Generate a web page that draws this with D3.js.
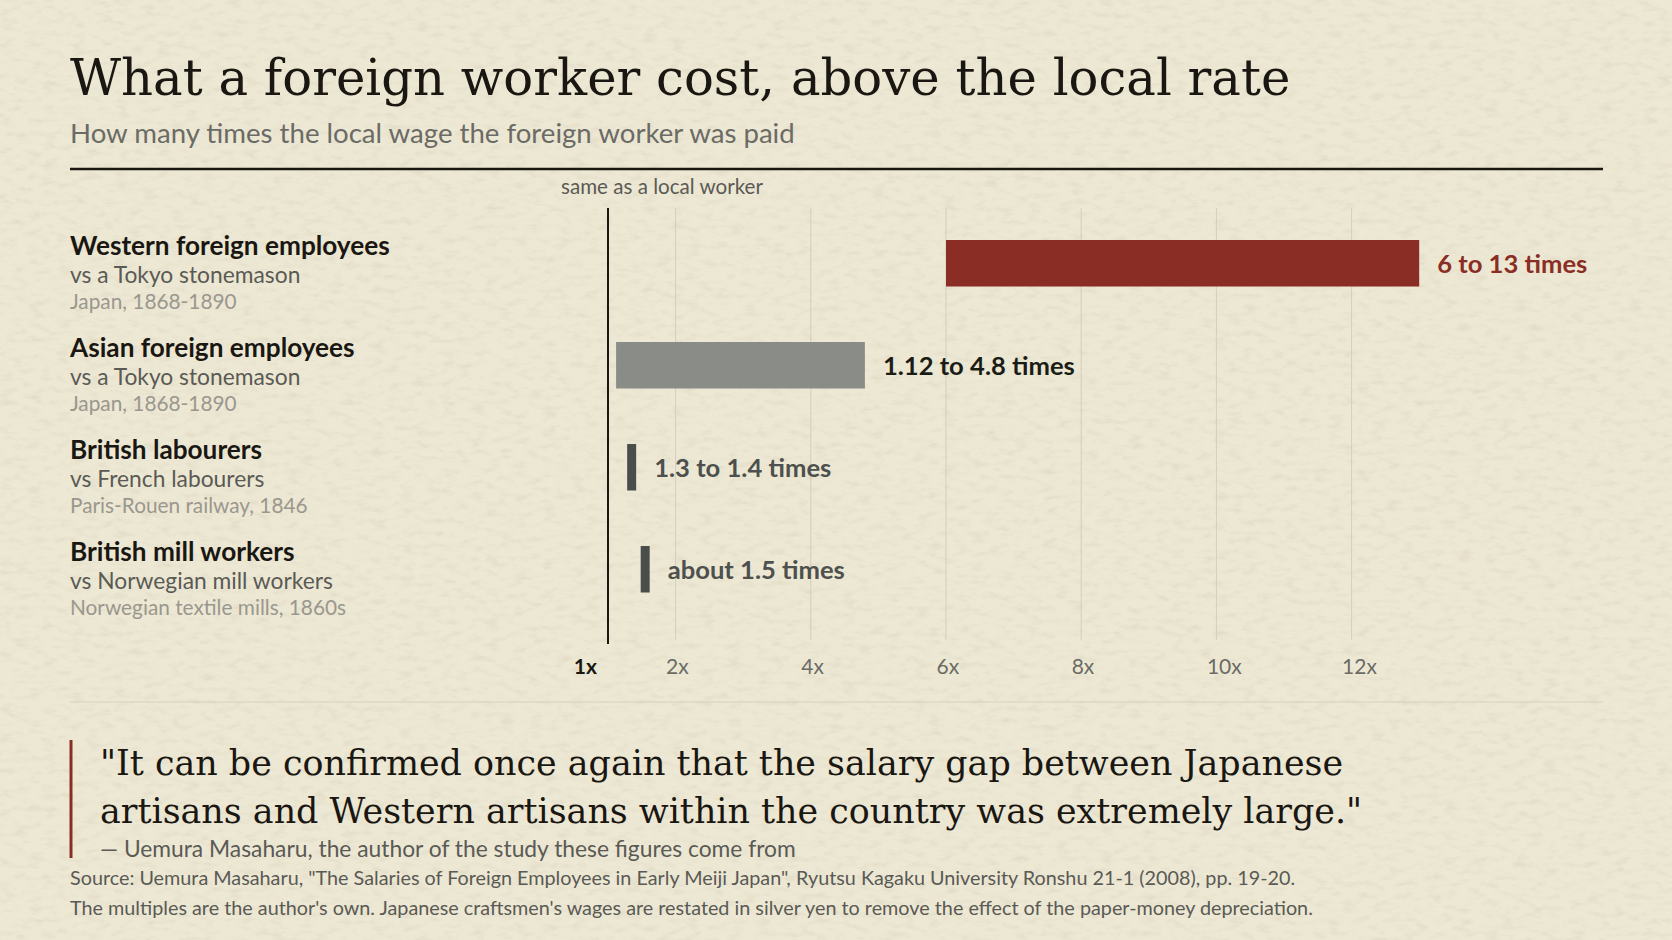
<!DOCTYPE html>
<html>
<head>
<meta charset="utf-8">
<script src="https://cdn.jsdelivr.net/npm/d3@7"></script>
<style>
  html, body { margin: 0; padding: 0; background: #ebe5cf; }
  svg { display: block; }
</style>
</head>
<body>
<div id="chart"></div>
<script>
// Chart data
const groups = ['Western foreign employees', 'Asian foreign employees', 'British labourers', 'British mill workers'];
const comparisons = ['vs a Tokyo stonemason', 'vs a Tokyo stonemason', 'vs French labourers', 'vs Norwegian mill workers'];
const places = ['Japan, 1868-1890', 'Japan, 1868-1890', 'Paris-Rouen railway, 1846', 'Norwegian textile mills, 1860s'];
const lowMultiple = [6, 1.12, 1.3, 1.5];
const highMultiple = [13, 4.8, 1.4, 1.6];
const valueLabels = ['6 to 13 times', '1.12 to 4.8 times', '1.3 to 1.4 times', 'about 1.5 times'];
const tickValues = [1, 2, 4, 6, 8, 10, 12];
const tickLabels = ['1x', '2x', '4x', '6x', '8x', '10x', '12x'];

const title = 'What a foreign worker cost, above the local rate';
const subtitle = 'How many times the local wage the foreign worker was paid';
const quoteLines = [
  '"It can be confirmed once again that the salary gap between Japanese',
  'artisans and Western artisans within the country was extremely large."'
];
const attribution = '\u2014 Uemura Masaharu, the author of the study these figures come from';
const sourceLines = [
  'Source: Uemura Masaharu, "The Salaries of Foreign Employees in Early Meiji Japan", Ryutsu Kagaku University Ronshu 21-1 (2008), pp. 19-20.',
  'The multiples are the author\'s own. Japanese craftsmen\'s wages are restated in silver yen to remove the effect of the paper-money depreciation.'
];

const width = 1672, height = 940;
const left = 70, right = 1603;
const serif = '"DejaVu Serif", "Liberation Serif", serif';
const sans = 'Lato, "Open Sans", sans-serif';

const barFill = ['#8a2e25', '#8a8c87', '#4a4e4b', '#4a4e4b'];
const labelFill = ['#8a2e25', '#1c1c17', '#4d504d', '#4d504d'];

const svg = d3.select('#chart')
  .append('svg')
  .attr('width', width)
  .attr('height', height);

// Paper texture
const defs = svg.append('defs');
const paper = defs.append('filter')
  .attr('id', 'paper')
  .attr('x', 0).attr('y', 0).attr('width', '100%').attr('height', '100%');
paper.append('feTurbulence')
  .attr('type', 'fractalNoise')
  .attr('baseFrequency', '0.07 0.16')
  .attr('numOctaves', 4)
  .attr('seed', 7)
  .attr('result', 'noise');
paper.append('feColorMatrix')
  .attr('type', 'matrix')
  .attr('values', '0 0 0 0 0.55  0 0 0 0 0.50  0 0 0 0 0.36  1.6 0 0 0 -0.74');

svg.append('rect')
  .attr('width', width)
  .attr('height', height)
  .attr('fill', '#ede8d4');
svg.append('rect')
  .attr('width', width)
  .attr('height', height)
  .attr('filter', 'url(#paper)')
  .attr('opacity', 0.35);

// Header
svg.append('text')
  .attr('x', left)
  .attr('y', 95)
  .style('font-family', serif)
  .style('font-size', '49.7px')
  .style('fill', '#1a1712')
  .text(title);

svg.append('text')
  .attr('x', left)
  .attr('y', 143)
  .style('font-family', sans)
  .style('font-size', '27.6px')
  .style('fill', '#6b6b66')
  .text(subtitle);

svg.append('line')
  .attr('x1', left).attr('x2', right)
  .attr('y1', 169).attr('y2', 169)
  .style('stroke', '#1a1712')
  .style('stroke-width', '2.5px');

// Scales
const x = d3.scaleLinear()
  .domain([1, 14])
  .range([608, 608 + 13 * 67.6]);

const y = d3.scaleBand()
  .domain(groups)
  .range([209.4, 623.1])
  .paddingInner(0.544)
  .paddingOuter(0.3);

const plotTop = 208, plotBottom = 644;

// Gridlines
svg.append('g')
  .selectAll('line')
  .data(tickValues.slice(1))
  .join('line')
  .attr('x1', d => x(d)).attr('x2', d => x(d))
  .attr('y1', plotTop).attr('y2', plotBottom - 4)
  .style('stroke', '#d3cebd')
  .style('stroke-width', '1px');

// Tick labels: 1x sits left of the baseline, the others start just before their gridline
svg.append('g')
  .selectAll('text')
  .data(tickValues)
  .join('text')
  .attr('x', (d, i) => i === 0 ? x(d) - 11 : x(d) - 9.5)
  .attr('y', 674)
  .attr('text-anchor', (d, i) => i === 0 ? 'end' : 'start')
  .style('font-family', sans)
  .style('font-size', '21px')
  .style('font-weight', (d, i) => i === 0 ? 700 : 400)
  .style('fill', (d, i) => i === 0 ? '#1a1712' : '#6b6b66')
  .text((d, i) => tickLabels[i]);

// Baseline at 1x
svg.append('line')
  .attr('x1', x(1)).attr('x2', x(1))
  .attr('y1', plotTop).attr('y2', plotBottom)
  .style('stroke', '#1a1712')
  .style('stroke-width', '2px');

svg.append('text')
  .attr('x', x(1) + 54)
  .attr('y', 194)
  .attr('text-anchor', 'middle')
  .style('font-family', sans)
  .style('font-size', '20.6px')
  .style('fill', '#5a5a55')
  .text('same as a local worker');

// Bars (very short ranges get a minimum visible width)
const minBar = 9;
const barX = i => {
  const w = x(highMultiple[i]) - x(lowMultiple[i]);
  return w < minBar ? (x(lowMultiple[i]) + x(highMultiple[i])) / 2 - minBar / 2 : x(lowMultiple[i]);
};
const barW = i => Math.max(minBar, x(highMultiple[i]) - x(lowMultiple[i]));

const rows = svg.append('g')
  .selectAll('g')
  .data(groups)
  .join('g')
  .attr('transform', d => `translate(0, ${y(d)})`);

rows.append('rect')
  .attr('x', (d, i) => barX(i))
  .attr('width', (d, i) => barW(i))
  .attr('y', 0)
  .attr('height', y.bandwidth())
  .style('fill', (d, i) => barFill[i]);

rows.append('text')
  .attr('x', (d, i) => barX(i) + barW(i) + 18)
  .attr('y', y.bandwidth() / 2 + 9.5)
  .style('font-family', sans)
  .style('font-size', '25.6px')
  .style('font-weight', 700)
  .style('fill', (d, i) => labelFill[i])
  .text((d, i) => valueLabels[i]);

// Row labels
const mid = y.bandwidth() / 2;
rows.append('text')
  .attr('x', left)
  .attr('y', mid - 8.5)
  .style('font-family', sans)
  .style('font-size', '26.2px')
  .style('font-weight', 700)
  .style('fill', '#1a1712')
  .text(d => d);

rows.append('text')
  .attr('x', left)
  .attr('y', mid + 19.5)
  .style('font-family', sans)
  .style('font-size', '22.8px')
  .style('fill', '#5a5a55')
  .text((d, i) => comparisons[i]);

rows.append('text')
  .attr('x', left)
  .attr('y', mid + 46)
  .style('font-family', sans)
  .style('font-size', '20.8px')
  .style('fill', '#9a978e')
  .text((d, i) => places[i]);

// Footer
svg.append('line')
  .attr('x1', left).attr('x2', right)
  .attr('y1', 702).attr('y2', 702)
  .style('stroke', '#d6d0bd')
  .style('stroke-width', '1px');

svg.append('rect')
  .attr('x', 69.5)
  .attr('y', 740)
  .attr('width', 3)
  .attr('height', 118)
  .style('fill', '#8a2e25');

svg.append('g')
  .selectAll('text')
  .data(quoteLines)
  .join('text')
  .attr('x', 100)
  .attr('y', (d, i) => 775 + i * 48)
  .style('font-family', serif)
  .style('font-size', '34.9px')
  .style('fill', '#1a1712')
  .text(d => d);

svg.append('text')
  .attr('x', 100)
  .attr('y', 857)
  .style('font-family', sans)
  .style('font-size', '22.8px')
  .style('fill', '#5a5a55')
  .text(attribution);

svg.append('g')
  .selectAll('text')
  .data(sourceLines)
  .join('text')
  .attr('x', left)
  .attr('y', (d, i) => 885 + i * 30)
  .style('font-family', sans)
  .style('font-size', '19.8px')
  .style('fill', '#5a5a55')
  .text(d => d);
</script>
</body>
</html>
